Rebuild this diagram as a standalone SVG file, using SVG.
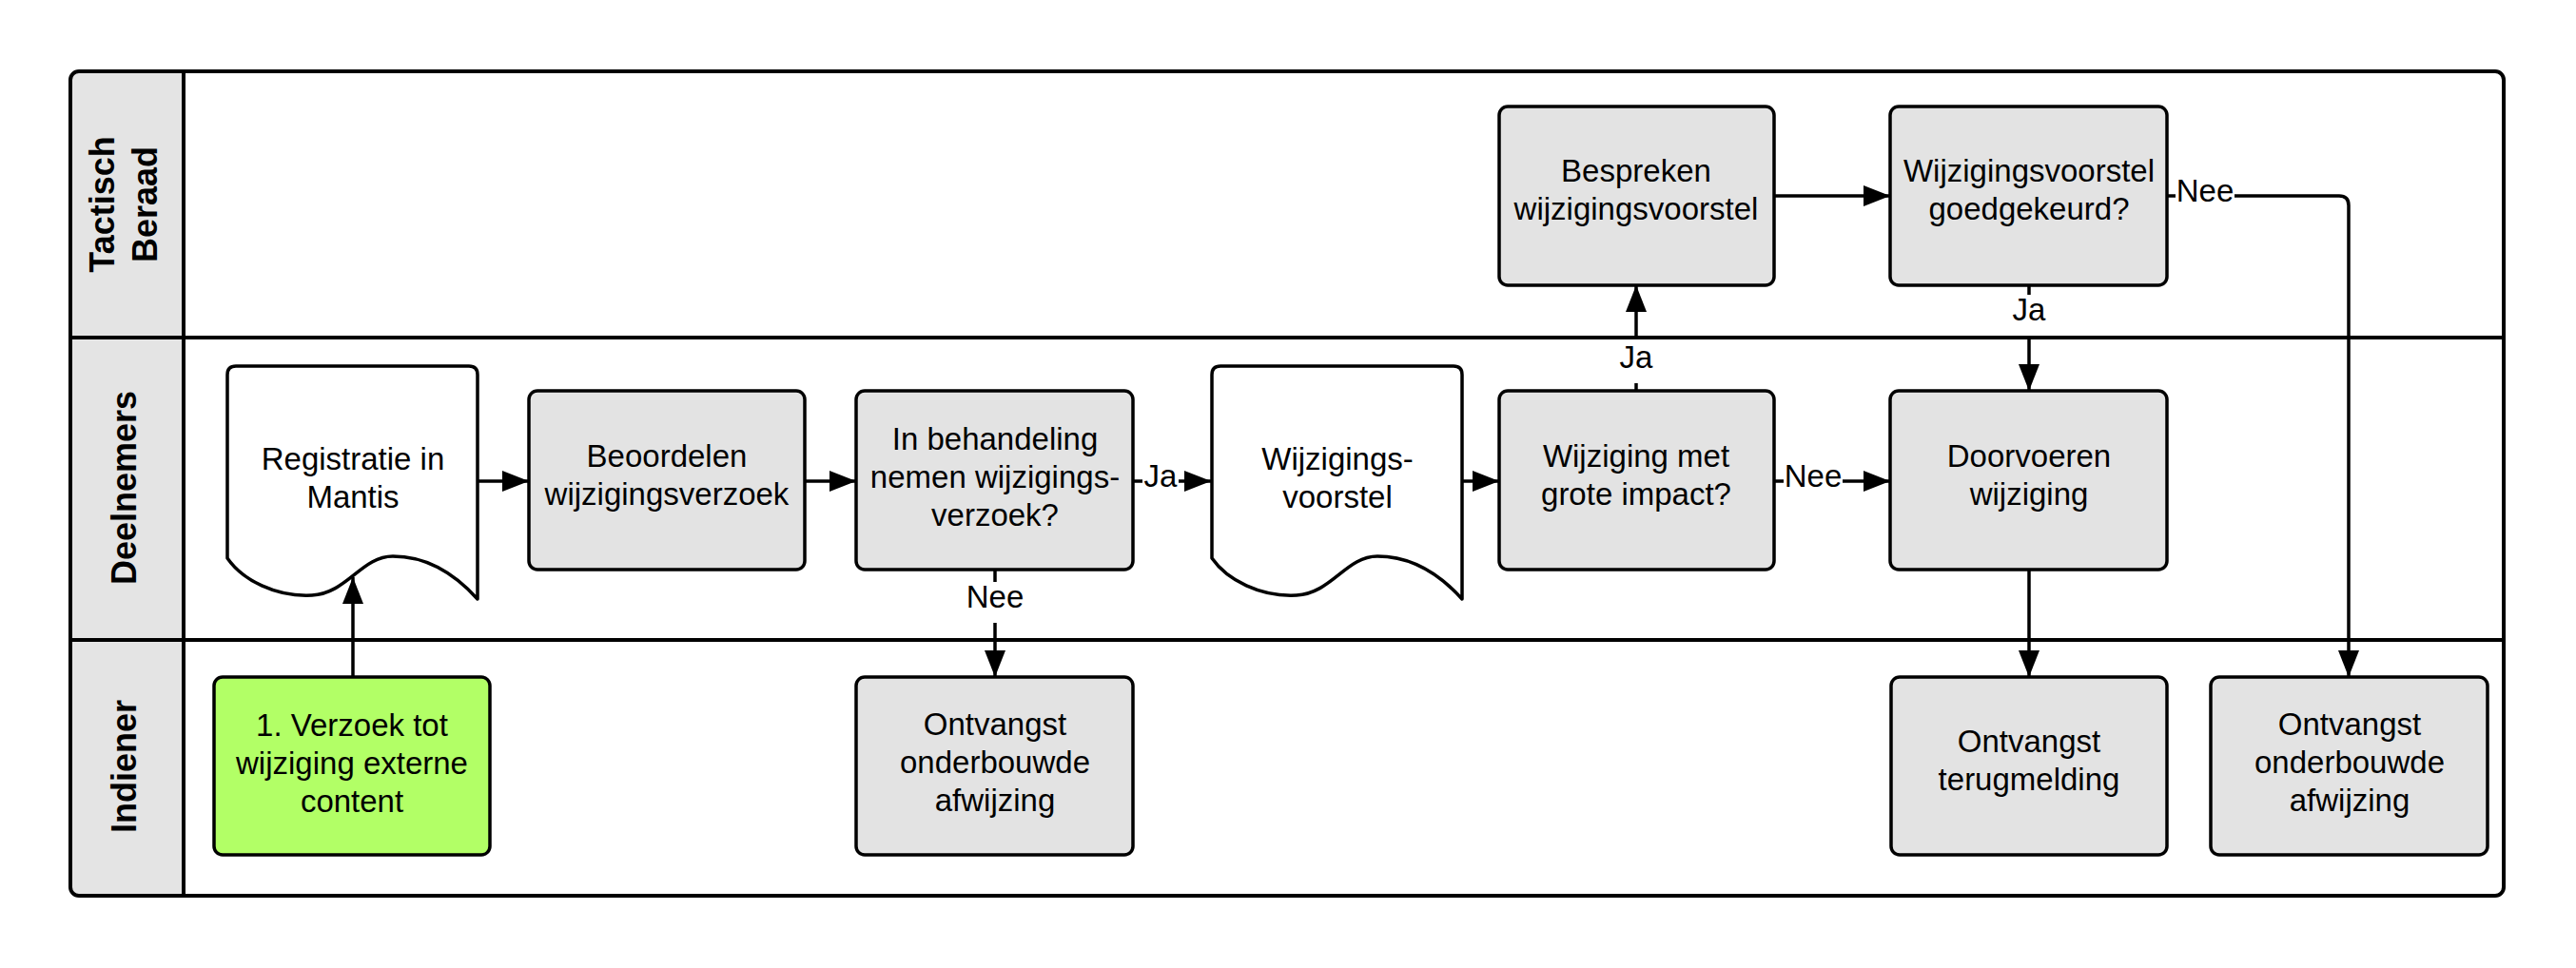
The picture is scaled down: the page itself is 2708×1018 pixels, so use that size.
<svg xmlns="http://www.w3.org/2000/svg" width="2708" height="1018" viewBox="0 0 2708 1018">
<style>
.box{fill:#e3e3e3;stroke:#000;stroke-width:3.5}
.green{fill:#b2ff66;stroke:#000;stroke-width:3.5}
.doc{fill:#fff;stroke:#000;stroke-width:3.5;stroke-linejoin:round}
.t{font-family:"Liberation Sans",Arial,sans-serif;font-size:33px;fill:#000;text-anchor:middle}
.h{font-family:"Liberation Sans",Arial,sans-serif;font-size:36px;font-weight:bold;fill:#000;text-anchor:middle}
.c{fill:none;stroke:#000;stroke-width:3.5}
.lane{fill:none;stroke:#000;stroke-width:4}
</style>
<defs>
<marker id="arr" markerUnits="userSpaceOnUse" markerWidth="28" markerHeight="22" refX="28" refY="11" orient="auto">
<path d="M0,0 L28,11 L0,22 Z" fill="#000"/>
</marker>
</defs>
<rect width="2708" height="1018" fill="#fff"/>
<g id="pool">
<rect x="74" y="75" width="2558" height="867" rx="9" fill="#fff"/>
<path d="M83,75 H193 V942 H83 Q74,942 74,933 V84 Q74,75 83,75 Z" fill="#e4e4e4"/>
<rect x="74" y="75" width="2558" height="867" rx="9" class="lane"/>
<line x1="193" y1="75" x2="193" y2="942" class="lane"/>
<line x1="74" y1="355" x2="2632" y2="355" class="lane"/>
<line x1="74" y1="673" x2="2632" y2="673" class="lane"/>
<text class="h" transform="translate(120,215) rotate(-90)">Tactisch</text>
<text class="h" transform="translate(165,215) rotate(-90)">Beraad</text>
<text class="h" transform="translate(143,513) rotate(-90)">Deelnemers</text>
<text class="h" transform="translate(143,806) rotate(-90)">Indiener</text>
</g>
<g id="connectors">
<line x1="371" y1="712" x2="371" y2="607" class="c" marker-end="url(#arr)"/>
<line x1="502" y1="506" x2="556" y2="506" class="c" marker-end="url(#arr)"/>
<line x1="846" y1="506" x2="900" y2="506" class="c" marker-end="url(#arr)"/>
<line x1="1191" y1="506" x2="1201" y2="506" class="c"/>
<line x1="1239" y1="506" x2="1273" y2="506" class="c" marker-end="url(#arr)"/>
<text class="t" x="1220" y="512">Ja</text>
<line x1="1046" y1="599" x2="1046" y2="612" class="c"/>
<line x1="1046" y1="655" x2="1046" y2="712" class="c" marker-end="url(#arr)"/>
<text class="t" x="1046" y="639">Nee</text>
<line x1="1537" y1="506" x2="1576" y2="506" class="c" marker-end="url(#arr)"/>
<line x1="1720" y1="411" x2="1720" y2="403" class="c"/>
<line x1="1720" y1="357" x2="1720" y2="300" class="c" marker-end="url(#arr)"/>
<text class="t" x="1720" y="387">Ja</text>
<line x1="1865" y1="506" x2="1875" y2="506" class="c"/>
<line x1="1937" y1="506" x2="1987" y2="506" class="c" marker-end="url(#arr)"/>
<text class="t" x="1906" y="512">Nee</text>
<line x1="1865" y1="206" x2="1987" y2="206" class="c" marker-end="url(#arr)"/>
<line x1="2133" y1="300" x2="2133" y2="310" class="c"/>
<line x1="2133" y1="353" x2="2133" y2="411" class="c" marker-end="url(#arr)"/>
<text class="t" x="2133" y="337">Ja</text>
<line x1="2278" y1="206" x2="2287" y2="206" class="c"/>
<path d="M2349,206 H2459 Q2469,206 2469,216 V712" class="c" marker-end="url(#arr)"/>
<text class="t" x="2318" y="212">Nee</text>
<line x1="2133" y1="599" x2="2133" y2="712" class="c" marker-end="url(#arr)"/>
</g>
<g id="n-registratie">
<path class="doc" d="M248,385 H493 Q502,385 502,394 V630 C475,600 445,585 413,585 C380,585 365,624 328,626 C290,628 255,610 239,587 V394 Q239,385 248,385 Z"/>
<text class="t" x="371" y="494">Registratie in</text>
<text class="t" x="371" y="534">Mantis</text>
</g>
<g id="n-beoordelen">
<rect class="box" x="556" y="411" width="290" height="188" rx="9"/>
<text class="t" x="701" y="491">Beoordelen</text>
<text class="t" x="701" y="531">wijzigingsverzoek</text>
</g>
<g id="n-inbehandeling">
<rect class="box" x="900" y="411" width="291" height="188" rx="9"/>
<text class="t" x="1046" y="473">In behandeling</text>
<text class="t" x="1046" y="513">nemen wijzigings-</text>
<text class="t" x="1046" y="553">verzoek?</text>
</g>
<g id="n-wijzigingsvoorstel-doc">
<path class="doc" transform="translate(1035,0)" d="M248,385 H493 Q502,385 502,394 V630 C475,600 445,585 413,585 C380,585 365,624 328,626 C290,628 255,610 239,587 V394 Q239,385 248,385 Z"/>
<text class="t" x="1406" y="494">Wijzigings-</text>
<text class="t" x="1406" y="534">voorstel</text>
</g>
<g id="n-wijziging-impact">
<rect class="box" x="1576" y="411" width="289" height="188" rx="9"/>
<text class="t" x="1720" y="491">Wijziging met</text>
<text class="t" x="1720" y="531">grote impact?</text>
</g>
<g id="n-doorvoeren">
<rect class="box" x="1987" y="411" width="291" height="188" rx="9"/>
<text class="t" x="2133" y="491">Doorvoeren</text>
<text class="t" x="2133" y="531">wijziging</text>
</g>
<g id="n-bespreken">
<rect class="box" x="1576" y="112" width="289" height="188" rx="9"/>
<text class="t" x="1720" y="191">Bespreken</text>
<text class="t" x="1720" y="231">wijzigingsvoorstel</text>
</g>
<g id="n-goedgekeurd">
<rect class="box" x="1987" y="112" width="291" height="188" rx="9"/>
<text class="t" x="2133" y="191">Wijzigingsvoorstel</text>
<text class="t" x="2133" y="231">goedgekeurd?</text>
</g>
<g id="n-verzoek">
<rect class="green" x="225" y="712" width="290" height="187" rx="9"/>
<text class="t" x="370" y="774">1. Verzoek tot</text>
<text class="t" x="370" y="814">wijziging externe</text>
<text class="t" x="370" y="854">content</text>
</g>
<g id="n-afwijzing1">
<rect class="box" x="900" y="712" width="291" height="187" rx="9"/>
<text class="t" x="1046" y="773">Ontvangst</text>
<text class="t" x="1046" y="813">onderbouwde</text>
<text class="t" x="1046" y="853">afwijzing</text>
</g>
<g id="n-terugmelding">
<rect class="box" x="1988" y="712" width="290" height="187" rx="9"/>
<text class="t" x="2133" y="791">Ontvangst</text>
<text class="t" x="2133" y="831">terugmelding</text>
</g>
<g id="n-afwijzing2">
<rect class="box" x="2324" y="712" width="291" height="187" rx="9"/>
<text class="t" x="2470" y="773">Ontvangst</text>
<text class="t" x="2470" y="813">onderbouwde</text>
<text class="t" x="2470" y="853">afwijzing</text>
</g>
</svg>
